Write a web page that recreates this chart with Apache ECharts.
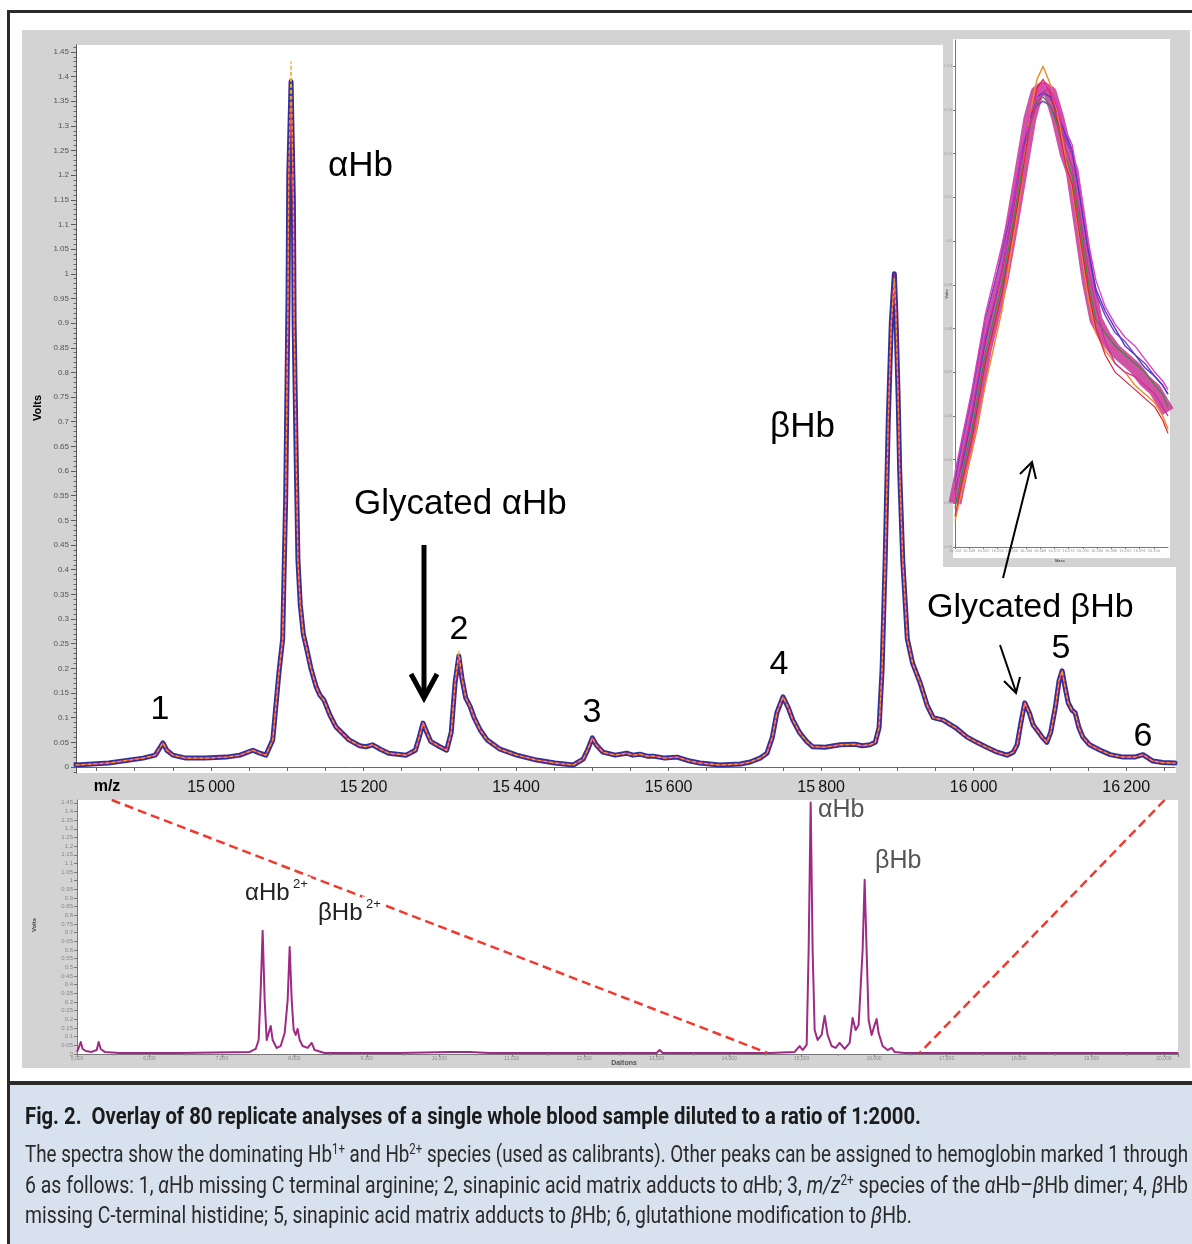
<!DOCTYPE html>
<html>
<head>
<meta charset="utf-8">
<script src="https://cdn.jsdelivr.net/npm/echarts@6/dist/echarts.min.js"></script>
<style>
  html, body { margin: 0; padding: 0; background: #fff; }
  #page { position: relative; width: 1192px; height: 1244px; overflow: hidden; }
  .abs { position: absolute; }
  #frame { left: 7px; top: 10px; width: 1200px; height: 1240px; border-left: 3px solid #2b2b2b; border-top: 3px solid #2b2b2b; }
  #sep { left: 7px; top: 1081px; width: 1200px; height: 4px; background: #2b2b2b; }
  #capbg { left: 10px; top: 1085px; width: 1190px; height: 170px; background: #d8e2ef; }
  #mainGray { left: 22px; top: 30px; width: 1168px; height: 770px; background: #d3d3d3; }
  #mainWhite { left: 76px; top: 45px; width: 1100px; height: 728px; background: #fff; }
  #insetGray { left: 943px; top: 38px; width: 233px; height: 529px; background: #d3d3d3; }
  #insetWhite { left: 953px; top: 39px; width: 217px; height: 519px; background: #fff; }
  #botGray { left: 22px; top: 800px; width: 1168px; height: 268px; background: #d3d3d3; }
  #botWhite { left: 77px; top: 800px; width: 1101px; height: 255px; background: #fff; }
  #chart { left: 0; top: 0; width: 1192px; height: 1244px; }
  .cap { position: absolute; left: 25px; white-space: nowrap; transform-origin: 0 50%;
         font-family: Roboto, "Liberation Sans", sans-serif; font-size: 23px; color: #2a2a2a; line-height: 28px; }
  .cap sup { font-size: 14px; vertical-align: 8px; line-height: 0; }
  #capTitle { top: 1103px; font-weight: bold; color: #1b1b1b; }
  #cap1 { top: 1141px; }
  #cap2 { top: 1172px; }
  #cap3 { top: 1202px; }
</style>
</head>
<body>
<div id="page">
  <div id="frame" class="abs"></div>
  <div id="mainGray" class="abs"></div>
  <div id="mainWhite" class="abs"></div>
  <div id="insetGray" class="abs"></div>
  <div id="insetWhite" class="abs"></div>
  <div id="botGray" class="abs"></div>
  <div id="botWhite" class="abs"></div>
  <div id="sep" class="abs"></div>
  <div id="capbg" class="abs"></div>
  <div id="chart" class="abs"></div>
  <div id="capTitle" class="cap" data-w="896">Fig. 2.&nbsp; Overlay of 80 replicate analyses of a single whole blood sample diluted to a ratio of 1:2000.</div>
  <div id="cap1" class="cap" data-w="1163">The spectra show the dominating Hb<sup>1+</sup> and Hb<sup>2+</sup> species (used as calibrants). Other peaks can be assigned to hemoglobin marked 1 through</div>
  <div id="cap2" class="cap" data-w="1163">6 as follows: 1, <i>α</i>Hb missing C terminal arginine; 2, sinapinic acid matrix adducts to <i>α</i>Hb; 3, <i>m/z</i><sup>2+</sup> species of the <i>α</i>Hb–<i>β</i>Hb dimer; 4, <i>β</i>Hb</div>
  <div id="cap3" class="cap" data-w="887">missing C-terminal histidine; 5, sinapinic acid matrix adducts to <i>β</i>Hb; 6, glutathione modification to <i>β</i>Hb.</div>
</div>
<script>
// ---------------- DATA ----------------
// Main panel: m/z axis labels and Volts tick labels
const X_TICKS = [15000, 15200, 15400, 15600, 15800, 16000, 16200];
const Y_TICKS = [0, 0.05, 0.1, 0.15, 0.2, 0.25, 0.3, 0.35, 0.4, 0.45, 0.5, 0.55, 0.6, 0.65, 0.7,
                 0.75, 0.8, 0.85, 0.9, 0.95, 1, 1.05, 1.1, 1.15, 1.2, 1.25, 1.3, 1.35, 1.4, 1.45];

// Main overlay spectrum (m/z, Volts)
const MAIN_MZ = [14823,14866,14911,14927,14937,14942,14950,14967,14992,15020,15038,15055,15064,15072,15081,15089,15094,15098,15101,15102,
  15105,15108,15109,15112,15114,15117,15121,15125,15131,15138,15143,15148,15156,15164,15181,15195,15203,15212,15222,15233,
  15256,15268,15273,15278,15283,15288,15300,15309,15315,15320,15325,15329,15334,15340,15345,15353,15362,15379,15401,15427,
  15451,15475,15488,15494,15500,15505,15514,15530,15545,15553,15562,15572,15580,15595,15611,15628,15641,15667,15694,15707,
  15720,15729,15736,15742,15750,15757,15763,15772,15781,15789,15805,15825,15844,15854,15864,15871,15876,15880,15884,15888,
  15892,15896,15898,15901,15903,15907,15913,15920,15930,15939,15947,15960,15976,15991,16004,16017,16031,16044,16052,16057,
  16062,16067,16073,16078,16083,16090,16096,16101,16107,16112,16116,16120,16124,16129,16133,16138,16143,16152,16166,16179,
  16196,16211,16222,16229,16235,16248,16264];
const MAIN_VOLTS = [0.004,0.008,0.018,0.024,0.049,0.034,0.024,0.018,0.018,0.020,0.024,0.034,0.028,0.024,0.055,0.19,0.26,0.55,0.95,1.2,
  1.39,1.15,0.9,0.6,0.42,0.33,0.27,0.243,0.2,0.162,0.145,0.136,0.105,0.081,0.055,0.043,0.041,0.045,0.036,0.028,
  0.024,0.034,0.06,0.089,0.07,0.052,0.041,0.034,0.07,0.17,0.225,0.18,0.14,0.122,0.10,0.075,0.055,0.036,0.024,0.014,
  0.008,0.004,0.016,0.035,0.059,0.045,0.030,0.024,0.028,0.024,0.026,0.022,0.022,0.018,0.020,0.012,0.008,0.004,0.006,0.010,
  0.018,0.028,0.06,0.11,0.142,0.12,0.095,0.069,0.052,0.041,0.040,0.045,0.046,0.043,0.045,0.05,0.08,0.2,0.42,0.7,
  0.9,1.0,0.92,0.75,0.6,0.42,0.26,0.21,0.17,0.125,0.10,0.095,0.08,0.061,0.05,0.040,0.030,0.024,0.03,0.045,
  0.09,0.13,0.11,0.085,0.075,0.06,0.05,0.07,0.12,0.175,0.195,0.16,0.13,0.115,0.11,0.08,0.061,0.045,0.034,0.025,
  0.020,0.020,0.025,0.018,0.012,0.009,0.008];
// Peak tops of individual replicate traces that differ from the common trace
const APEX_ORANGE = [[15105, 1.43], [15325, 0.235], [15896, 0.99]];
const APEX_RED = [[15105, 1.35], [15325, 0.22], [15896, 0.99]];
const APEX_MAGENTA = [[15105, 1.2], [15896, 1.0]];

// Inset: zoom on a peak, replicate traces
const INSET_DA = [16044.0,16046.0,16048.8,16052.5,16057.2,16060.1,16062.6,16065.1,16067.1,16068.8,16070.8,16073.0,16075.3,
  16077.0,16079.2,16081.5,16083.7,16086.3,16089.1,16091.9,16094.7,16097.5,16100.3,16102.5,16104.0];
const INSET_BASE = [0.040,0.048,0.058,0.075,0.091,0.104,0.116,0.128,0.134,0.135,0.134,0.128,0.120,0.116,0.104,0.091,0.082,0.078,0.075,0.073,0.071,0.068,0.066,0.063,0.061];
const INSET_R_ORANGE = [0.036,0.043,0.052,0.067,0.084,0.099,0.112,0.129,0.137,0.140,0.136,0.129,0.118,0.112,0.100,0.087,0.079,0.075,0.072,0.070,0.067,0.065,0.063,0.060,0.057];
const INSET_R_PURPLE = [0.045,0.054,0.065,0.082,0.097,0.108,0.120,0.128,0.131,0.132,0.131,0.127,0.123,0.120,0.110,0.098,0.088,0.083,0.079,0.077,0.074,0.072,0.069,0.067,0.065];
const INSET_R_MAGENTA = [0.042,0.050,0.061,0.078,0.093,0.106,0.118,0.127,0.131,0.134,0.135,0.130,0.121,0.117,0.106,0.094,0.085,0.077,0.072,0.070,0.069,0.067,0.065,0.062,0.060];
const INSET_R_GREEN = [0.039,0.047,0.057,0.074,0.090,0.103,0.115,0.126,0.132,0.133,0.131,0.126,0.119,0.115,0.104,0.091,0.082,0.079,0.076,0.074,0.072,0.070,0.067,0.065,0.062];
const INSET_R_BLUE = [0.043,0.049,0.060,0.077,0.093,0.106,0.118,0.128,0.133,0.134,0.133,0.129,0.124,0.121,0.110,0.098,0.089,0.084,0.080,0.076,0.074,0.071,0.069,0.067,0.065];
const INSET_R_RED = [0.037,0.045,0.055,0.072,0.088,0.101,0.113,0.127,0.135,0.137,0.134,0.127,0.117,0.113,0.101,0.089,0.080,0.074,0.070,0.068,0.066,0.064,0.062,0.059,0.056];
const INSET_R_PINK = [0.047,0.055,0.066,0.083,0.099,0.109,0.121,0.129,0.133,0.136,0.135,0.131,0.125,0.122,0.112,0.100,0.091,0.085,0.081,0.078,0.076,0.073,0.070,0.068,0.066];

// Bottom panel: full mass range spectrum (Daltons, Volts)
const BOT_DA = [5000,5023,5051,5079,5120,5203,5272,5299,5327,5382,5589,6417,7383,7466,7507,7535,7562,7590,7618,7645,
  7673,7700,7756,7811,7866,7907,7935,7963,7990,8018,8045,8073,8114,8183,8239,8280,8418,9453,10143,10419,
  10695,12213,12999,13041,13082,14559,14904,14973,15014,15070,15097,15125,15152,15180,15221,15276,15318,15359,15414,15470,
  15525,15594,15663,15704,15746,15787,15842,15870,15897,15925,15966,16008,16035,16063,16118,16187,16242,16284,16422,20200];
const BOT_VOLTS = [0.012,0.035,0.069,0.029,0.017,0.012,0.023,0.069,0.029,0.012,0.006,0.006,0.012,0.029,0.081,0.37,0.711,0.31,0.081,0.092,
  0.162,0.081,0.035,0.046,0.121,0.31,0.618,0.31,0.139,0.11,0.145,0.081,0.046,0.035,0.064,0.023,0.006,0.006,0.012,0.012,
  0.006,0.006,0.006,0.023,0.006,0.006,0.012,0.046,0.023,0.052,0.6,1.451,0.6,0.139,0.081,0.110,0.22,0.110,0.046,0.035,
  0.064,0.029,0.064,0.208,0.139,0.168,0.6,1.006,0.6,0.196,0.110,0.168,0.202,0.121,0.046,0.023,0.035,0.012,0.006,0.006];
// Zoom-range connectors (dashed red) in bottom panel coordinates
const ZOOM_LEFT = [[5479, 1.466], [14531, 0.006]];
const ZOOM_RIGHT = [[20010, 1.466], [16629, 0.006]];

// ---------------- BUILD ----------------
function pairs(xs, ys) { return xs.map((x, i) => [x, ys[i]]); }
function withApex(xs, ys, apex) {
  return xs.map((x, i) => {
    const hit = apex.find(a => a[0] === x);
    return [x, hit ? hit[1] : ys[i]];
  });
}
const minorY = []; for (let i = -1; i <= 146; i++) minorY.push(+(i * 0.01).toFixed(2));
const minorX = []; for (let v = 14850; v <= 16250; v += 50) minorX.push(v);

const FONT = '"Liberation Sans", Arial, sans-serif';
const chart = echarts.init(document.getElementById('chart'), null, { renderer: 'canvas' });

function mainLine(name, data, color, width, dash) {
  return { name, type: 'line', xAxisIndex: 0, yAxisIndex: 0, data, showSymbol: false, symbol: 'none',
    lineStyle: { color, width, type: dash || 'solid', join: 'round', cap: 'round' }, animation: false, z: 3, silent: true };
}
function insetLine(name, ys, color, width, opacity) {
  return { name, type: 'line', xAxisIndex: 1, yAxisIndex: 2, data: pairs(INSET_DA, ys), showSymbol: false, symbol: 'none',
    lineStyle: { color, width, opacity: opacity == null ? 1 : opacity, join: 'round' }, animation: false, z: 3, silent: true };
}
function txt(text, x, y, size, opts) {
  opts = opts || {};
  return { type: 'text', x: x, y: y, z: 100, rotation: opts.rotation || 0,
    style: { text, fontSize: size, fontFamily: FONT, fontWeight: opts.bold ? 'bold' : 'normal',
      fill: opts.color || '#000', align: opts.align || 'left', verticalAlign: 'middle',
      textAlign: opts.align || 'left', textVerticalAlign: 'middle',
      backgroundColor: opts.bg, padding: opts.pad } };
}
function poly(points, width, color) {
  return { type: 'polyline', z: 100, shape: { points },
    style: { stroke: color || '#000', lineWidth: width, fill: null, lineJoin: 'miter', lineCap: 'butt' } };
}

const option = {
  backgroundColor: 'transparent',
  animation: false,
  grid: [
    { left: 76, top: 45, width: 1099, height: 728, containLabel: false },
    { left: 955, top: 40, width: 213, height: 507, containLabel: false },
    { left: 77, top: 800, width: 1101.4, height: 254, containLabel: false }
  ],
  xAxis: [
    { gridIndex: 0, type: 'value', min: 14823, max: 16264,
      axisLine: { show: true, lineStyle: { color: '#666', width: 1 } },
      axisTick: { show: true, customValues: minorX, length: 4, lineStyle: { color: '#666' } },
      axisLabel: { show: true, customValues: X_TICKS, fontSize: 16, color: '#111', fontFamily: FONT, margin: 7,
        formatter: v => String(v).replace(/(\d{2})(\d{3})$/, '$1\u2009$2') },
      splitLine: { show: false } },
    { gridIndex: 1, type: 'value', min: 16044, max: 16104, interval: 4,
      axisLine: { show: true, lineStyle: { color: '#777' } },
      axisTick: { show: true, length: 2, lineStyle: { color: '#777' } },
      axisLabel: { show: true, fontSize: 4, color: '#999', margin: 2, showMaxLabel: false },
      splitLine: { show: false } },
    { gridIndex: 2, type: 'value', min: 5000, max: 20200, interval: 1000,
      axisLine: { show: true, lineStyle: { color: '#777' } },
      axisTick: { show: true, length: 3, lineStyle: { color: '#777' } },
      minorTick: { show: true, splitNumber: 2, length: 2, lineStyle: { color: '#999' } },
      axisLabel: { show: true, fontSize: 5, color: '#888', margin: 2, showMaxLabel: false },
      splitLine: { show: false } }
  ],
  yAxis: [
    { gridIndex: 0, type: 'value', position: 'left', min: -0.0122, max: 1.4639,
      axisLine: { show: true, lineStyle: { color: '#555', width: 1 } },
      axisTick: { show: true, customValues: Y_TICKS, length: 5, lineStyle: { color: '#555' } },
      axisLabel: { show: true, customValues: Y_TICKS, fontSize: 8, color: '#555', fontFamily: FONT, margin: 7 },
      splitLine: { show: false } },
    { gridIndex: 0, type: 'value', position: 'left', offset: 0, min: -0.0122, max: 1.4639,
      axisLine: { show: false },
      axisTick: { show: true, customValues: minorY, length: 2.5, lineStyle: { color: '#666' } },
      axisLabel: { show: false }, splitLine: { show: false } },
    { gridIndex: 1, type: 'value', min: 0.03, max: 0.146, interval: 0.01,
      axisLine: { show: true, lineStyle: { color: '#777' } },
      axisTick: { show: true, length: 2, lineStyle: { color: '#777' } },
      axisLabel: { show: true, fontSize: 4, color: '#999', margin: 3, showMaxLabel: false },
      splitLine: { show: false } },
    { gridIndex: 2, type: 'value', min: 0, max: 1.466, interval: 0.05,
      axisLine: { show: true, lineStyle: { color: '#777' } },
      axisTick: { show: true, length: 3, lineStyle: { color: '#777' } },
      axisLabel: { show: true, fontSize: 6, color: '#888', margin: 4, showMaxLabel: false },
      splitLine: { show: false } }
  ],
  series: [
    mainLine('replicates-blue', pairs(MAIN_MZ, MAIN_VOLTS), '#30309c', 5),
    mainLine('replicates-magenta', withApex(MAIN_MZ, MAIN_VOLTS, APEX_MAGENTA), '#b0288c', 1.4),
    mainLine('replicates-red', withApex(MAIN_MZ, MAIN_VOLTS, APEX_RED), '#e0305e', 1.5),
    mainLine('replicates-orange', withApex(MAIN_MZ, MAIN_VOLTS, APEX_ORANGE), '#f2a02a', 1.2, [3, 3]),

    insetLine('inset-band', INSET_BASE, '#c93597', 13, 0.85),
    insetLine('inset-purple', INSET_R_PURPLE, '#7b3fc8', 1.4),
    insetLine('inset-blue', INSET_R_BLUE, '#4a3cc8', 1.4),
    insetLine('inset-green', INSET_R_GREEN, '#3a8a3a', 1.2),
    insetLine('inset-orange', INSET_R_ORANGE, '#f08a24', 1.4),
    insetLine('inset-red', INSET_R_RED, '#e02040', 1.2),
    insetLine('inset-magenta', INSET_R_MAGENTA, '#d0309a', 1.4),
    insetLine('inset-pink', INSET_R_PINK, '#e040c0', 1.4),

    { name: 'full-range', type: 'line', xAxisIndex: 2, yAxisIndex: 3, data: pairs(BOT_DA, BOT_VOLTS),
      showSymbol: false, symbol: 'none', lineStyle: { color: '#9e2a85', width: 2, join: 'round' }, animation: false, z: 3 },
    { name: 'zoom-left', type: 'line', xAxisIndex: 2, yAxisIndex: 3, data: ZOOM_LEFT, showSymbol: false, symbol: 'none',
      lineStyle: { color: '#ee3a2f', width: 2.5, type: [9, 5] }, animation: false, z: 4 },
    { name: 'zoom-right', type: 'line', xAxisIndex: 2, yAxisIndex: 3, data: ZOOM_RIGHT, showSymbol: false, symbol: 'none',
      lineStyle: { color: '#ee3a2f', width: 2.5, type: [9, 5] }, animation: false, z: 4 }
  ],
  graphic: { elements: [
    txt('αHb', 328, 166, 35),
    txt('βHb', 770, 427, 35),
    txt('Glycated αHb', 354, 504, 35),
    txt('Glycated βHb', 927, 608, 34),
    txt('1', 160, 710, 34, { align: 'center' }),
    txt('2', 459, 630, 34, { align: 'center' }),
    txt('3', 592, 713, 34, { align: 'center' }),
    txt('4', 779, 665, 34, { align: 'center' }),
    txt('5', 1061, 649, 34, { align: 'center' }),
    txt('6', 1143, 737, 34, { align: 'center' }),
    txt('m/z', 107, 787, 16, { bold: true, align: 'center' }),
    txt('Volts', 38, 408, 11, { bold: true, align: 'center', rotation: Math.PI / 2 }),
    txt('Volts', 947, 294, 4, { bold: true, align: 'center', rotation: Math.PI / 2, color: '#555' }),
    txt('Mass', 1060, 561, 4, { bold: true, align: 'center', color: '#555' }),
    txt('Volts', 34, 925, 6, { bold: true, align: 'center', rotation: Math.PI / 2, color: '#444' }),
    txt('Daltons', 624, 1063, 7, { bold: true, align: 'center', color: '#555' }),
    txt('αHb', 818, 810, 25, { color: '#555' }),
    txt('βHb', 875, 861, 25, { color: '#555' }),
    txt('αHb', 245, 893, 24, { color: '#222' }),
    txt('2+', 290, 884, 13, { color: '#222', bg: '#fff', pad: [1, 3] }),
    txt('βHb', 318, 913, 24, { color: '#222' }),
    txt('2+', 362, 904, 13, { color: '#222', bg: '#fff', pad: [1, 4] }),
    poly([[424, 545], [424, 696]], 5),
    poly([[411, 674], [424, 698], [437, 674]], 5),
    poly([[1000, 645], [1016, 692]], 2),
    poly([[1004, 681], [1016, 693], [1020, 677]], 2),
    poly([[1003, 578], [1032, 463]], 2),
    poly([[1020, 474], [1032, 462], [1036, 479]], 2)
  ] }
};
chart.setOption(option);

// fit caption lines to the reference line widths
document.querySelectorAll('.cap').forEach(el => {
  el.style.display = 'inline-block';
  const w = el.getBoundingClientRect().width;
  const target = +el.getAttribute('data-w');
  if (w > 0) el.style.transform = 'scaleX(' + (target / w).toFixed(4) + ')';
});
</script>
</body>
</html>
